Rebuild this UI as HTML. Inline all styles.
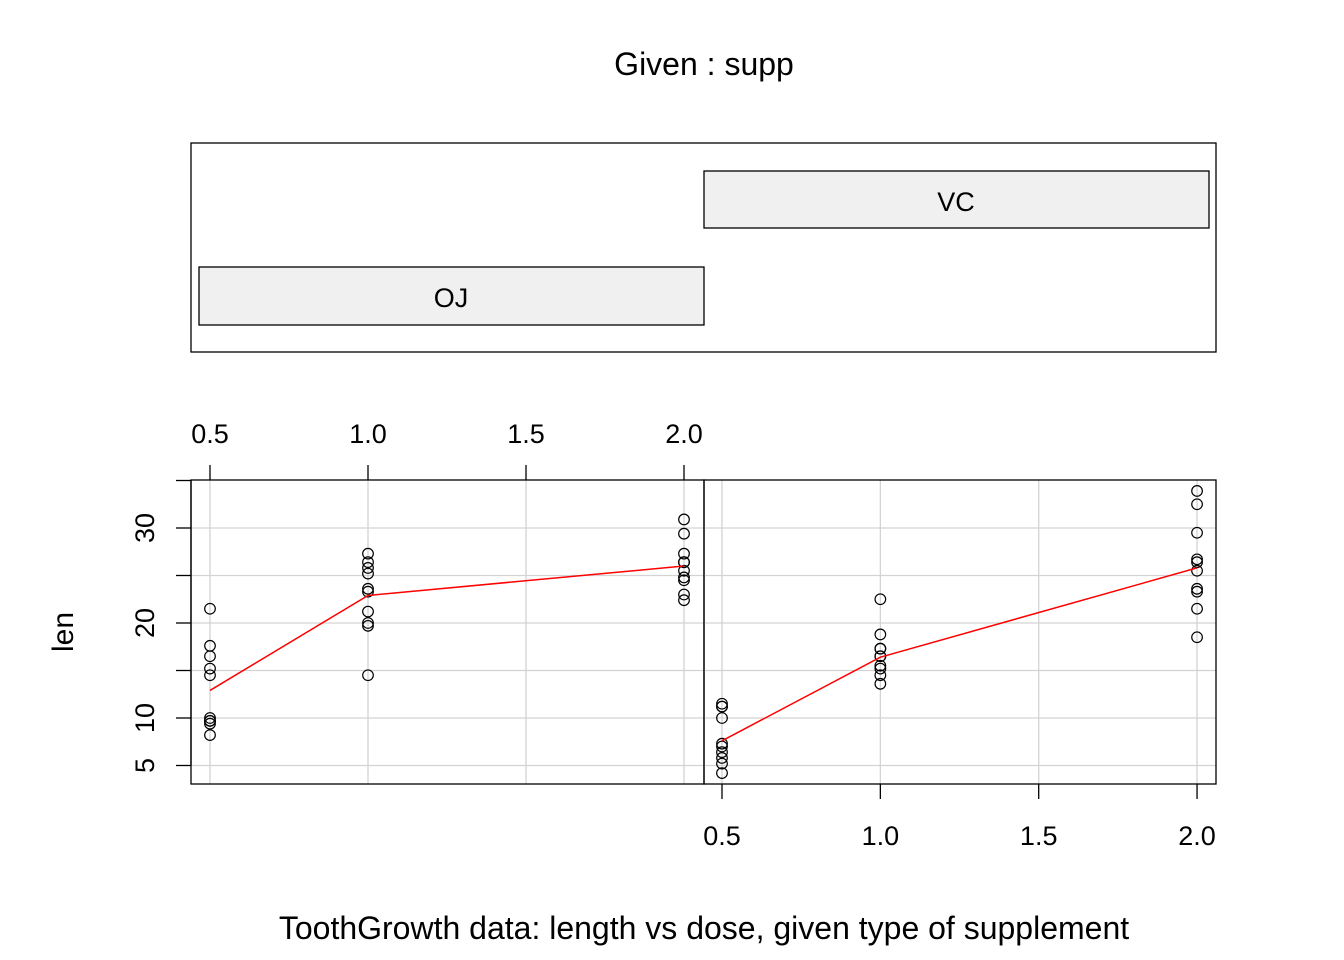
<!DOCTYPE html>
<html><head><meta charset="utf-8"><style>body{margin:0;background:#fff}svg{display:block;font-family:"Liberation Sans",Arial,sans-serif}</style></head>
<body>
<svg id="c" width="1344" height="960">
<text x="704" y="75" font-size="32" text-anchor="middle">Given : supp</text>
<rect x="191" y="143" width="1025" height="209" fill="none" stroke="#000" stroke-width="1.3"/>
<rect x="704" y="171" width="505" height="57" fill="#f0f0f0" stroke="#000" stroke-width="1.3"/>
<text x="956" y="211" font-size="27" text-anchor="middle">VC</text>
<rect x="199" y="267" width="505" height="58" fill="#f0f0f0" stroke="#000" stroke-width="1.3"/>
<text x="451" y="307" font-size="27" text-anchor="middle">OJ</text>
<text transform="translate(73,632) rotate(-90)" font-size="30" text-anchor="middle">len</text>
<text x="704" y="939" font-size="32" text-anchor="middle">ToothGrowth data: length vs dose, given type of supplement</text>
<g id="plots"></g>
</svg>
<script>
const doses = [0.5, 1.0, 2.0];
const ojLen = [[15.2,21.5,17.6,9.7,14.5,10,8.2,9.4,16.5,9.7],[19.7,23.3,23.6,26.4,20,25.2,25.8,21.2,14.5,27.3],[25.5,26.4,22.4,24.5,24.8,30.9,26.4,27.3,29.4,23]];
const vcLen = [[4.2,11.5,7.3,5.8,6.4,10,11.2,11.2,5.2,7],[16.5,16.5,15.2,17.3,22.5,17.3,13.6,14.5,18.8,15.5],[23.6,18.5,33.9,25.5,26.4,32.5,26.7,21.5,23.3,29.5]];
const ojSmooth = [12.9, 22.9, 26.0];
const vcSmooth = [7.6, 16.4, 25.8];
const xTicks = [0.5, 1.0, 1.5, 2.0];
const xTickLabels = ["0.5","1.0","1.5","2.0"];
const yGrid = [5,10,15,20,25,30];
const yTicks = [5,10,15,20,25,30,35];
const yTickLabels = {5:"5",10:"10",20:"20",30:"30"};
const NS="http://www.w3.org/2000/svg";
const g=document.getElementById('plots');
function mk(t,a){const e=document.createElementNS(NS,t);for(const k in a)e.setAttribute(k,a[k]);g.appendChild(e);return e;}
const y=v=>718-(v-10)*9.5;
const panels=[{x0:191,x1:704,xs:v=>210+(v-0.5)*316,data:ojLen,sm:ojSmooth,n:'oj'},{x0:704,x1:1216,xs:v=>722+(v-0.5)*316.7,data:vcLen,sm:vcSmooth,n:'vc'}];
panels.forEach(p=>{
  xTicks.forEach(t=>{const l=mk('line',{x1:p.xs(t),x2:p.xs(t),y1:480,y2:784,stroke:'#d3d3d3','stroke-width':1.3});});
  yGrid.forEach(t=>{const l=mk('line',{x1:p.x0,x2:p.x1,y1:y(t),y2:y(t),stroke:'#d3d3d3','stroke-width':1.3});});
  p.data.forEach((arr,i)=>arr.forEach(v=>{const c=mk('circle',{cx:p.xs(doses[i]),cy:y(v),r:5.3,fill:'none',stroke:'#000','stroke-width':1.2});}));
  const pl=mk('polyline',{points:doses.map((d,i)=>p.xs(d)+','+y(p.sm[i])).join(' '),fill:'none',stroke:'#ff0000','stroke-width':1.5});
  
  const r=mk('rect',{x:p.x0,y:480,width:p.x1-p.x0,height:304,fill:'none',stroke:'#000','stroke-width':1.3});
  
});
[[panels[0],480,-15,443],[panels[1],784,15,845]].forEach(([p,yb,d,ty])=>{
  xTicks.forEach((t,i)=>{
    const l=mk('line',{x1:p.xs(t),x2:p.xs(t),y1:yb,y2:yb+d,stroke:'#000','stroke-width':1.3});
    const tx=mk('text',{x:p.xs(t),y:ty,'font-size':27,'text-anchor':'middle'});tx.textContent=xTickLabels[i];
  });
});
const ax=mk('line',{x1:191,x2:191,y1:y(35),y2:y(5),stroke:'#000','stroke-width':1.3});
yTicks.forEach(t=>{
  const l=mk('line',{x1:176,x2:191,y1:y(t),y2:y(t),stroke:'#000','stroke-width':1.3});
  if(yTickLabels[t]){const tx=mk('text',{transform:`translate(154,${y(t)}) rotate(-90)`,'font-size':27,'text-anchor':'middle'});tx.textContent=yTickLabels[t];}
});
</script>
</body></html>
